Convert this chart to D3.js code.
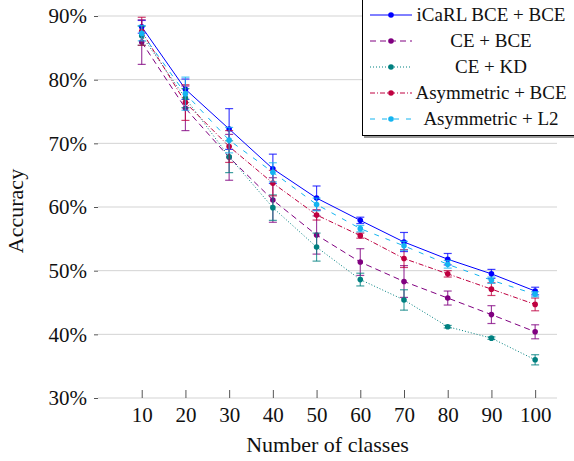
<!DOCTYPE html>
<html>
<head>
<meta charset="utf-8">
<script src="https://cdn.jsdelivr.net/npm/d3@7"></script>
<style>
  html, body { margin: 0; padding: 0; background: #fff; }
  svg { display: block; }
  svg text { font-family: "Liberation Serif", "Times New Roman", Times, "DejaVu Serif", "Noto Serif", serif !important; fill: #111; }
</style>
</head>
<body>
<svg id="chart" width="574" height="461"></svg>
<script>
// Number of classes seen so far
const classes = [10, 20, 30, 40, 50, 60, 70, 80, 90, 100];

// Mean accuracy (%) and standard deviation per method
const icarlMean = [88.3, 78.5, 72.25, 66.0, 61.4, 57.9, 54.5, 51.8, 49.5, 46.8];
const icarlErr  = [1.0, 1.6, 3.2, 2.3, 1.9, 0.5, 1.5, 0.9, 0.7, 0.6];

const ceBceMean = [85.9, 75.5, 67.8, 61.1, 55.6, 51.35, 48.3, 45.7, 43.1, 40.4];
const ceBceErr  = [3.5, 3.5, 3.6, 3.5, 3.0, 2.1, 2.5, 1.1, 1.4, 1.1];

const ceKdMean = [86.9, 77.1, 67.9, 59.9, 53.7, 48.6, 45.4, 41.2, 39.4, 36.0];
const ceKdErr  = [1.5, 1.5, 2.5, 2.0, 2.2, 1.0, 1.6, 0.2, 0.2, 0.8];

const asymBceMean = [87.6, 76.4, 69.5, 63.75, 58.75, 55.5, 51.9, 49.5, 47.1, 44.7];
const asymBceErr  = [2.2, 2.8, 2.5, 2.0, 0.8, 0.4, 1.4, 0.5, 1.0, 1.0];

const asymL2Mean = [87.3, 77.8, 70.5, 65.45, 60.4, 56.6, 53.9, 51.0, 48.5, 46.3];
const asymL2Err  = [1.2, 2.6, 2.0, 1.5, 1.0, 0.5, 0.7, 0.6, 0.5, 0.4];

const seriesNames = ["iCaRL BCE + BCE", "CE + BCE", "CE + KD", "Asymmetric + BCE", "Asymmetric + L2"];
const yTicks = [30, 40, 50, 60, 70, 80, 90];

const series = [
  { name: seriesNames[0], mean: icarlMean,   err: icarlErr,   color: "#0000ff", dash: null },
  { name: seriesNames[1], mean: ceBceMean,   err: ceBceErr,   color: "#800080", dash: "6,4" },
  { name: seriesNames[2], mean: ceKdMean,    err: ceKdErr,    color: "#008080", dash: "1,2" },
  { name: seriesNames[3], mean: asymBceMean, err: asymBceErr, color: "#bf0040", dash: "5,2,1,2" },
  { name: seriesNames[4], mean: asymL2Mean,  err: asymL2Err,  color: "#14b4f0", dash: "5,7" }
];

const svg = d3.select("#chart");
const x = d3.scaleLinear().domain([0, 105]).range([98, 557]);
const y = d3.scaleLinear().domain([30, 90]).range([398, 16]);

// horizontal grid
svg.append("g").selectAll("line").data(yTicks).join("line")
  .attr("x1", x(0)).attr("x2", x(105))
  .attr("y1", d => y(d)).attr("y2", d => y(d))
  .attr("stroke", "#d3d3d3").attr("stroke-width", 1);

// y axis: ticks and labels, no domain line
const yAxis = d3.axisLeft(y).tickValues(yTicks).tickSize(4).tickPadding(7)
  .tickFormat(d => d + "%");
const gy = svg.append("g").attr("transform", `translate(${x(0)},0)`).call(yAxis);
gy.attr("font-family", null);
gy.select(".domain").remove();
gy.selectAll(".tick line").attr("stroke", "#555");
gy.selectAll("text").attr("font-size", 21).attr("fill", "#111");

// x axis: ticks pointing up into the plot
const xAxis = d3.axisBottom(x).tickValues(classes).tickSize(-8).tickPadding(9);
const gx = svg.append("g").attr("transform", `translate(0,${y(30)})`).call(xAxis);
gx.attr("font-family", null);
gx.select(".domain").remove();
gx.selectAll(".tick line").attr("stroke", "#555");
gx.selectAll("text").attr("font-size", 21).attr("fill", "#111");

// axis titles
svg.append("text").attr("x", (x(0) + x(105)) / 2).attr("y", 452)
  .attr("text-anchor", "middle").attr("font-size", 22).text("Number of classes");
svg.append("text").attr("transform", `translate(23,${(y(30) + 16) / 2 + 4}) rotate(-90)`)
  .attr("text-anchor", "middle").attr("font-size", 22).text("Accuracy");

const line = d3.line().x(d => x(d[0])).y(d => y(d[1]));

series.forEach(s => {
  const g = svg.append("g");
  const pts = classes.map((c, i) => [c, s.mean[i], s.err[i]]);
  // error bars
  const eb = g.append("g").attr("stroke", s.color).attr("stroke-opacity", 0.75).attr("stroke-width", 1.2);
  pts.forEach(p => {
    const cx = x(p[0]), lo = y(p[1] - p[2]), hi = y(p[1] + p[2]);
    eb.append("line").attr("x1", cx).attr("x2", cx).attr("y1", lo).attr("y2", hi);
    eb.append("line").attr("x1", cx - 4).attr("x2", cx + 4).attr("y1", lo).attr("y2", lo);
    eb.append("line").attr("x1", cx - 4).attr("x2", cx + 4).attr("y1", hi).attr("y2", hi);
  });
  g.append("path").datum(pts).attr("d", line)
    .attr("fill", "none").attr("stroke", s.color).attr("stroke-width", 1)
    .attr("stroke-dasharray", s.dash);
  g.selectAll("circle").data(pts).join("circle")
    .attr("cx", d => x(d[0])).attr("cy", d => y(d[1])).attr("r", 2.8)
    .attr("fill", s.color);
});

// legend
const lg = svg.append("g");
lg.append("rect").attr("x", 364).attr("y", -2).attr("width", 220).attr("height", 140).attr("fill", "#999");
lg.append("rect").attr("x", 362.5).attr("y", -5).attr("width", 220).attr("height", 140.5)
  .attr("fill", "#fff").attr("stroke", "#000").attr("stroke-width", 1);
series.forEach((s, i) => {
  const cy = 15 + i * 26;
  lg.append("line").attr("x1", 370).attr("x2", 412).attr("y1", cy).attr("y2", cy)
    .attr("stroke", s.color).attr("stroke-width", 1).attr("stroke-dasharray", s.dash);
  lg.append("circle").attr("cx", 391).attr("cy", cy).attr("r", 2.8).attr("fill", s.color);
  lg.append("text").attr("x", 491).attr("y", cy + 6).attr("text-anchor", "middle")
    .attr("font-size", 19).text(s.name);
});
</script>
</body>
</html>
